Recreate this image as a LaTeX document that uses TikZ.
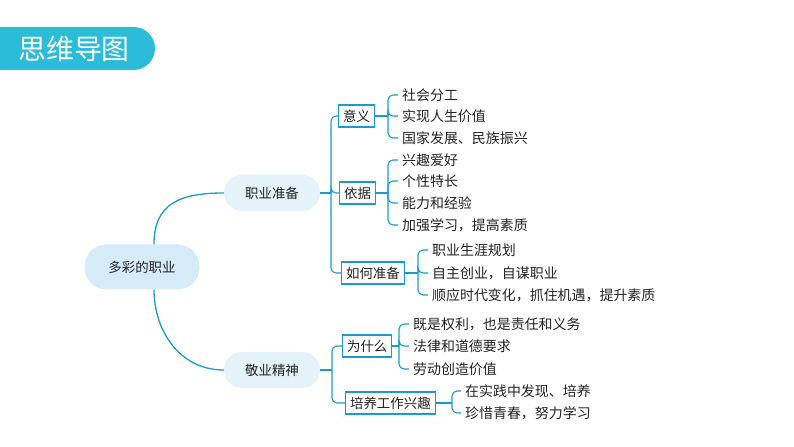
\documentclass[tikz,border=0pt]{standalone}
\usepackage{fontspec}
\setmainfont{Noto Sans CJK SC}
\usepackage{xcolor}
\definecolor{mapline}{HTML}{1B9BC9}
\definecolor{rootfill}{HTML}{D5EBF8}
\definecolor{pillfill}{HTML}{E4F2FA}
\definecolor{titlecyan}{HTML}{2ABCD9}
\definecolor{ink}{HTML}{222222}

\begin{document}
\begin{tikzpicture}[
  x=1bp, y=-1bp,
  pill/.style={fill=pillfill,rounded corners=18bp,minimum width=96bp,minimum height=36bp,text=ink,font=\fontsize{13.5}{15}\selectfont},
  rootpill/.style={pill,fill=rootfill,rounded corners=22bp,minimum width=115bp,minimum height=45bp},
  tag/.style={draw=mapline,line width=1.1bp,fill=white,anchor=west,inner xsep=4.5bp,inner ysep=0bp,minimum height=22bp,text=ink,font=\fontsize{13.5}{15}\selectfont},
  leaf/.style={anchor=west,inner xsep=4bp,inner ysep=1bp,text=ink,font=\fontsize{14}{16}\selectfont},
  branch/.style={draw=mapline,line width=1.3bp},
  brace/.style={draw=mapline,line width=1.1bp,rounded corners=5bp}
]
\useasboundingbox (0,0) rectangle (794,447);
% title banner
\fill[titlecyan,rounded corners=21.5bp] (-30,27) rectangle (155,70);
\node[text=white,font=\fontsize{28}{30}\selectfont] (title) at (74,48.5) {思维导图};

% main nodes
\node[rootpill] (root) at (142,267) {多彩的职业};
\node[pill] (prep) at (272,193) {职业准备};
\node[pill] (spirit) at (272,370) {敬业精神};
\draw[branch] ([xshift=12bp]root.north) .. controls +(0,-40) and +(-45,0) .. (prep.west);
\draw[branch] ([xshift=12bp]root.south) .. controls +(0,40) and +(-45,0) .. (spirit.west);

% 职业准备
\node[tag] (yiyi) at (338,116) {意义};
\node[tag] (yiju) at (339,193) {依据};
\node[tag] (ruhe) at (341,273) {如何准备};
\draw[branch] (prep.east) -- (331,193) coordinate (prepJ);
\foreach \n in {yiyi,yiju,ruhe}
  \draw[brace] (prepJ) |- (\n.west);

\node[leaf] (y1) at (398,95) {社会分工};
\node[leaf] (y2) at (398,116) {实现人生价值};
\node[leaf] (y3) at (398,138) {国家发展、民族振兴};
\draw[branch] (yiyi.east) -- (388,116) coordinate (yiyiJ);
\foreach \n in {y1,y2,y3}
  \draw[brace] (yiyiJ) |- (\n.west);

\node[leaf] (j1) at (398,160) {兴趣爱好};
\node[leaf] (j2) at (398,181) {个性特长};
\node[leaf] (j3) at (398,203) {能力和经验};
\node[leaf] (j4) at (398,225) {加强学习，提高素质};
\draw[branch] (yiju.east) -- (388,193) coordinate (yijuJ);
\foreach \n in {j1,j2,j3,j4}
  \draw[brace] (yijuJ) |- (\n.west);

\node[leaf] (r1) at (428,250) {职业生涯规划};
\node[leaf] (r2) at (428,273) {自主创业，自谋职业};
\node[leaf] (r3) at (428,295) {顺应时代变化，抓住机遇，提升素质};
\draw[branch] (ruhe.east) -- (418,273) coordinate (ruheJ);
\foreach \n in {r1,r2,r3}
  \draw[brace] (ruheJ) |- (\n.west);

% 敬业精神
\node[tag] (why) at (342,346) {为什么};
\node[tag] (grow) at (345,403) {培养工作兴趣};
\draw[branch] (spirit.east) -- (332,370) coordinate (spiritJ);
\foreach \n in {why,grow}
  \draw[brace] (spiritJ) |- (\n.west);

\node[leaf] (w1) at (409,324) {既是权利，也是责任和义务};
\node[leaf] (w2) at (409,346) {法律和道德要求};
\node[leaf] (w3) at (409,369) {劳动创造价值};
\draw[branch] (why.east) -- (399,346) coordinate (whyJ);
\foreach \n in {w1,w2,w3}
  \draw[brace] (whyJ) |- (\n.west);

\node[leaf] (g1) at (461,391) {在实践中发现、培养};
\node[leaf] (g2) at (461,413) {珍惜青春，努力学习};
\draw[branch] (grow.east) -- (452,403) coordinate (growJ);
\foreach \n in {g1,g2}
  \draw[brace] (growJ) |- (\n.west);
\end{tikzpicture}
\end{document}
